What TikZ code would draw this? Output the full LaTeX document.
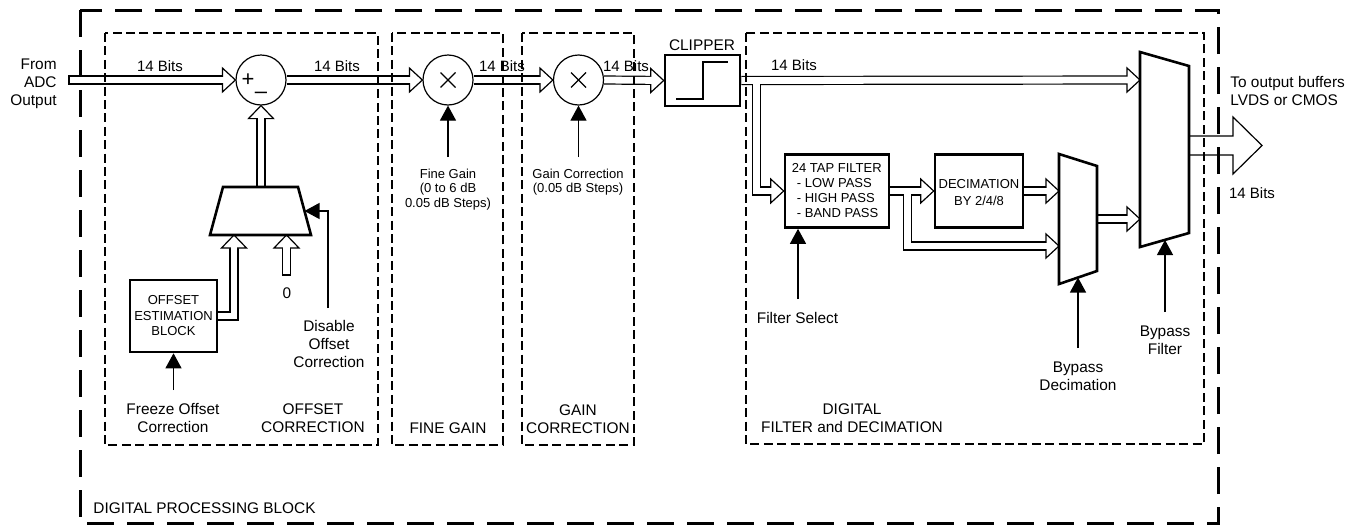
\documentclass[tikz,border=0pt]{standalone}
\usepackage{fontspec}
\setmainfont{Liberation Sans}
\usetikzlibrary{arrows.meta,calc}
\pgfdeclarelayer{bg}
\pgfdeclarelayer{fg}
\pgfsetlayers{bg,main,fg}
\newcommand\hR[1]{\draw[hd] (#1) -- ($(#1)+(-13,-12)$) -- ($(#1)+(-13,12)$) -- cycle;}
\newcommand\hU[1]{\draw[hd] (#1) -- ($(#1)+(-12.5,13)$) -- ($(#1)+(12.5,13)$) -- cycle;}
\begin{document}
\begin{tikzpicture}[x=0.5pt,y=-0.5pt,
  lbl/.style={inner sep=0pt, font=\fontsize{7.7}{9}\selectfont, align=center},
  bits/.style={inner sep=0pt, font=\fontsize{7.5}{9}\selectfont},
  sm/.style={inner sep=0pt, font=\fontsize{6.5}{7.25}\selectfont, align=center},
  blk/.style={draw, line width=1.3pt, inner sep=0pt},
  mux/.style={draw, line width=1.3pt, line join=miter},
  circ/.style={circle, draw, line width=0.6pt, minimum size=25pt, inner sep=0pt},
  outerdash/.style={line width=1.5pt, dash pattern=on 13.5pt off 6.5pt},
  innerdash/.style={line width=0.6pt, dash pattern=on 4.5pt off 2.2pt},
  bo/.style={line width=4.6pt, line join=miter},
  bi/.style={line width=3.4pt, white, line join=miter},
  boh/.style={bo, shorten >=6.5pt},
  bih/.style={bi, shorten >=5.6pt},
  hd/.style={fill=white, line width=0.6pt, line join=miter},
  ctrl/.style={line width=0.6pt, -{Triangle[length=7.5pt,width=8pt]}},
  thinl/.style={line width=0.6pt}]
\useasboundingbox (0,0) rectangle (1359,525);

% ---- blocks
\node[circ] (sum) at (261,80) {};
\node[circ] (m1) at (448,80) {};
\node[circ] (m2) at (578.5,80) {};
\node[blk, minimum width=37.5pt, minimum height=25.5pt] (clip) at (702.5,80.5) {};
\node[blk, minimum width=43.5pt, minimum height=36pt] (est) at (173.5,316) {};
\node[blk, minimum width=52pt, minimum height=36.5pt] (filt) at (837,191) {};
\node[blk, minimum width=44pt, minimum height=36.5pt] (dec) at (979,191) {};

% offset mux
\coordinate (om1) at (223,187); \coordinate (om2) at (298,187);
\coordinate (om3) at (311,235); \coordinate (om4) at (210,235);
\draw[mux] (om1) -- (om2) -- (om3) -- (om4) -- cycle;
\coordinate (omtop) at (261,187);
\coordinate (omin1) at (234,235);
\coordinate (omin2) at (286.5,235);
\coordinate (omsel) at (304.5,211);
% small mux
\coordinate (sm1) at (1059,154); \coordinate (sm2) at (1097,166);
\coordinate (sm3) at (1097,271); \coordinate (sm4) at (1059,284);
\draw[mux] (sm1) -- (sm2) -- (sm3) -- (sm4) -- cycle;
\coordinate (smin1) at (1059,191);
\coordinate (smin2) at (1059,246);
\coordinate (smout) at (1097,219);
\coordinate (smsel) at (1078,277.5);
% big mux
\coordinate (bm1) at (1140,52); \coordinate (bm2) at (1189,66);
\coordinate (bm3) at (1189,233); \coordinate (bm4) at (1140,247);
\draw[mux] (bm1) -- (bm2) -- (bm3) -- (bm4) -- cycle;
\coordinate (bmin1) at (1140,80);
\coordinate (bmin2) at (1140,219);
\coordinate (bmout) at (1189,145.5);
\coordinate (bmsel) at (1165,240);

% other points
\coordinate (in) at (69,80);
\coordinate (br1) at ($(clip.east)+(15.5,-0.5)$);
\coordinate (br2) at ($(filt.east)+(17,0)$);
\coordinate (zero) at (286.5,275);

% signs and symbols
\node[inner sep=0pt, font=\fontsize{11}{11}\selectfont] (plus) at (248,80) {+};
\node[inner sep=0pt, font=\fontsize{11}{11}\selectfont] (minus) at (261,95) {–};
\draw[thinl] ($(m1)+(-7.5,-7.5)$) -- ($(m1)+(7.5,7.5)$);
\draw[thinl] ($(m1)+(-7.5,7.5)$) -- ($(m1)+(7.5,-7.5)$);
\draw[thinl] ($(m2)+(-7.5,-7.5)$) -- ($(m2)+(7.5,7.5)$);
\draw[thinl] ($(m2)+(-7.5,7.5)$) -- ($(m2)+(7.5,-7.5)$);
\draw[thinl] ($(clip.center)+(-26.5,18.5)$) -- ++(27,0) -- ++(0,-37) -- ++(25,0);

% ---- buses
\begin{pgfonlayer}{bg}
\draw[boh] (in) -- (sum.west);
\draw[boh] (sum.east) -- (m1.west);
\draw[boh] (m1.east) -- (m2.west);
\draw[boh] (m2.east) -- (clip.west);
\draw[boh] (clip.east) -- (bmin1);
\draw[boh] (br1) |- (filt.west);
\draw[boh] (filt.east) -- (dec.west);
\draw[boh] (br2) |- (smin2);
\draw[boh] (dec.east) -- (smin1);
\draw[boh] (smout) -- (bmin2);
\draw[boh] (omtop) -- (sum.south);
\draw[boh] (est.east) -| (omin1);
\draw[boh] (zero) -- (omin2);
\hR{sum.west} \hR{m1.west} \hR{m2.west} \hR{clip.west} \hR{bmin1}
\hR{filt.west} \hR{dec.west} \hR{smin2} \hR{smin1} \hR{bmin2}
\hU{sum.south} \hU{omin1} \hU{omin2}
\draw[bih] (in) -- (sum.west);
\draw[bih] (sum.east) -- (m1.west);
\draw[bih] (m1.east) -- (m2.west);
\draw[bih] (m2.east) -- (clip.west);
\draw[bih] (clip.east) -- (bmin1);
\draw[bih] (br1) |- (filt.west);
\draw[bih] (filt.east) -- (dec.west);
\draw[bih] (br2) |- (smin2);
\draw[bih] (dec.east) -- (smin1);
\draw[bih] (smout) -- (bmin2);
\draw[bih] (omtop) -- (sum.south);
\draw[bih] (est.east) -| (omin1);
\draw[bih] (zero) -- (omin2);
\draw[thinl] ($(in)+(0,-4.6)$) -- ($(in)+(0,4.6)$);
\draw[thinl] ($(zero)+(-4.6,0)$) -- ($(zero)+(4.6,0)$);
% output block arrow
\draw[thinl, line join=miter] (bmout) ++(0,-9.5) -- ++(44,0) -- ++(0,-19) -- ++(29,28.5)
   -- ++(-29,28.5) -- ++(0,-19) -- ++(-44,0);
\end{pgfonlayer}

% ---- control arrows
\coordinate (fz) at (173.5,390);
\coordinate (dis) at (328,308);
\coordinate (fg) at (448,157);
\coordinate (gc) at (578.5,157);
\coordinate (fs) at (798,299);
\coordinate (bd) at (1078,348);
\coordinate (bf) at (1165,312);
\draw[ctrl] (fz) -- (est.south);
\draw[ctrl] (dis) |- (omsel);
\draw[ctrl] (fg) -- (m1.south);
\draw[ctrl] (gc) -- (m2.south);
\draw[ctrl] (fs) -- (fs |- filt.south);
\draw[ctrl] (bd) -- (smsel);
\draw[ctrl] (bf) -- (bmsel);

% ---- texts
\node[lbl, anchor=east, align=right] (tin) at (57,84) {From\\ADC\\Output};
\node[bits] (b1) at (160,66) {14 Bits};
\node[bits] (b2) at (337,66) {14 Bits};
\node[bits] (b3) at (502,66) {14 Bits};
\node[bits] (b4) at (626,66) {14 Bits};
\node[bits] (b5) at (794,65) {14 Bits};
\node[bits] (b6) at (1252,193) {14 Bits};
\node[lbl, anchor=west, align=left] (tout) at (1230,91) {To output buffers\\LVDS or CMOS};
\node[lbl] (tclip) at (702,45) {CLIPPER};
\node[sm, font=\fontsize{6.5}{7.75}\selectfont] (test) at (est) {OFFSET\\ESTIMATION\\BLOCK};
\node[sm, anchor=west, align=left, font=\fontsize{6.5}{7.5}\selectfont] (tfilt) at (791.5,191) {24 TAP FILTER\\\hspace*{2.5pt}- LOW PASS\\\hspace*{2.5pt}- HIGH PASS\\\hspace*{2.5pt}- BAND PASS};
\node[sm, font=\fontsize{6.5}{8.5}\selectfont] (tdec) at (979,192.5) {DECIMATION\\BY 2/4/8};
\node[sm] (tfg) at (448,189.5) {Fine Gain\\(0 to 6 dB\\0.05 dB Steps)};
\node[sm] (tgc) at (578,182) {Gain Correction\\(0.05 dB Steps)};
\node[lbl] (tzero) at (287,293) {0};
\node[lbl] (tdis) at (329,343.5) {Disable\\Offset\\Correction};
\node[lbl] (tfz) at (173,418) {Freeze Offset\\Correction};
\node[lbl] (toc) at (313,418) {OFFSET\\CORRECTION};
\node[lbl] (tfgn) at (448,428) {FINE GAIN};
\node[lbl] (tgcn) at (578,419) {GAIN\\CORRECTION};
\node[lbl] (tdf) at (852,418) {DIGITAL\\FILTER and DECIMATION};
\node[lbl] (tfs) at (797.5,318) {Filter Select};
\node[lbl] (tbd) at (1078,376) {Bypass\\Decimation};
\node[lbl] (tbf) at (1165,340) {Bypass\\Filter};
\node[lbl, anchor=west] (tdpb) at (93,508) {DIGITAL PROCESSING BLOCK};

% ---- dashed group boxes
\begin{pgfonlayer}{fg}
\draw[outerdash] (80,10) rectangle (1218,523);
\draw[innerdash] (105,33) rectangle (378,445);
\draw[innerdash] (392,33) rectangle (503,445);
\draw[innerdash] (522,33) rectangle (634,445);
\draw[innerdash] (746,33) rectangle (1204,444);
\end{pgfonlayer}
\end{tikzpicture}
\end{document}
